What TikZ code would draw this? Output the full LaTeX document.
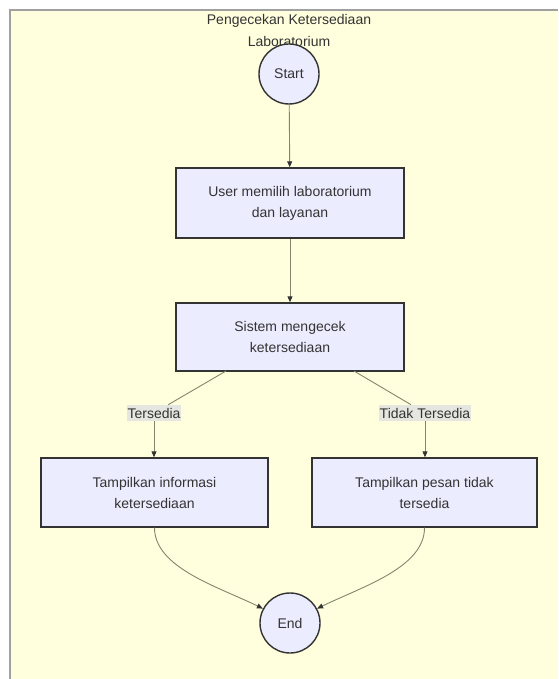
\documentclass[tikz,border=0pt]{standalone}
\usepackage{fontspec}
\setmainfont{Liberation Sans}
\usetikzlibrary{arrows.meta}
\definecolor{bgY}{HTML}{FFFFDE}
\definecolor{nodeF}{HTML}{ECECFF}
\definecolor{txt}{HTML}{333333}
\definecolor{edgeC}{HTML}{85856E}
\definecolor{lblF}{HTML}{E6E6E0}
\definecolor{frameC}{HTML}{A0A0A0}
\tikzset{
  box/.style={draw=txt, line width=1.4pt, fill=nodeF, text=txt, align=center,
    minimum width=227pt, minimum height=69pt, inner sep=0pt,
    font=\fontsize{14}{21}\selectfont},
  term/.style={circle, draw=txt, line width=1.4pt, fill=nodeF, text=txt,
    minimum size=60pt, inner sep=0pt, font=\fontsize{14}{17}\selectfont},
  elabel/.style={fill=lblF, text=txt, inner xsep=1pt, inner ysep=3pt,
    font=\fontsize{14}{17}\selectfont},
  edge/.style={draw=edgeC, line width=0.9pt},
  arr/.style={edge, -{Triangle[length=6pt,width=5pt,fill=txt,color=txt]}},
}
\begin{document}
\begin{tikzpicture}[x=1pt,y=-1pt]
\useasboundingbox (0,0) rectangle (558,679);
\fill[white] (0,0) rectangle (558,679);
\fill[bgY] (10,10) rectangle (558,679);
\draw[frameC, line width=1.5pt] (10,679) -- (10,10) -- (558,10);

\node[text=txt, align=center, font=\fontsize{14}{22}\selectfont] (title) at (289,30)
  {Pengecekan Ketersediaan\\Laboratorium};

\node[term] (start) at (289,74) {Start};
\node[box, minimum width=228pt, minimum height=70pt] (b1) at (290,203) {User memilih laboratorium\\dan layanan};
\node[box, minimum width=228pt, minimum height=68pt] (b2) at (290,337) {Sistem mengecek\\ketersediaan};
\node[box] (b3) at (154.5,492.5) {Tampilkan informasi\\ketersediaan};
\node[box, minimum width=225pt] (b4) at (424.5,492.5) {Tampilkan pesan tidak\\tersedia};
\node[term] (end) at (290,623) {End};

\coordinate (b2l) at (226,371);
\coordinate (b2r) at (354,371);

\node[elabel] (l1) at (154,413) {Tersedia};
\node[elabel] (l2) at (425,413) {Tidak Tersedia};

\draw[arr] (start) -- (b1);
\draw[arr] (b1) -- (b2);
\draw[edge] (b2l) -- (l1);
\draw[edge] (b2r) -- (l2);
\draw[arr] (l1) -- (b3.north -| l1);
\draw[arr] (l2) -- (b4.north -| l2);
\draw[arr] (b3.south) .. controls +(0,40) and +(-45,-22) .. (end.152);
\draw[arr] (b4.south) .. controls +(0,40) and +(45,-22) .. (end.28);

% redraw labels on top
\node[elabel] at (l1) {Tersedia};
\node[elabel] at (l2) {Tidak Tersedia};
\end{tikzpicture}
\end{document}
